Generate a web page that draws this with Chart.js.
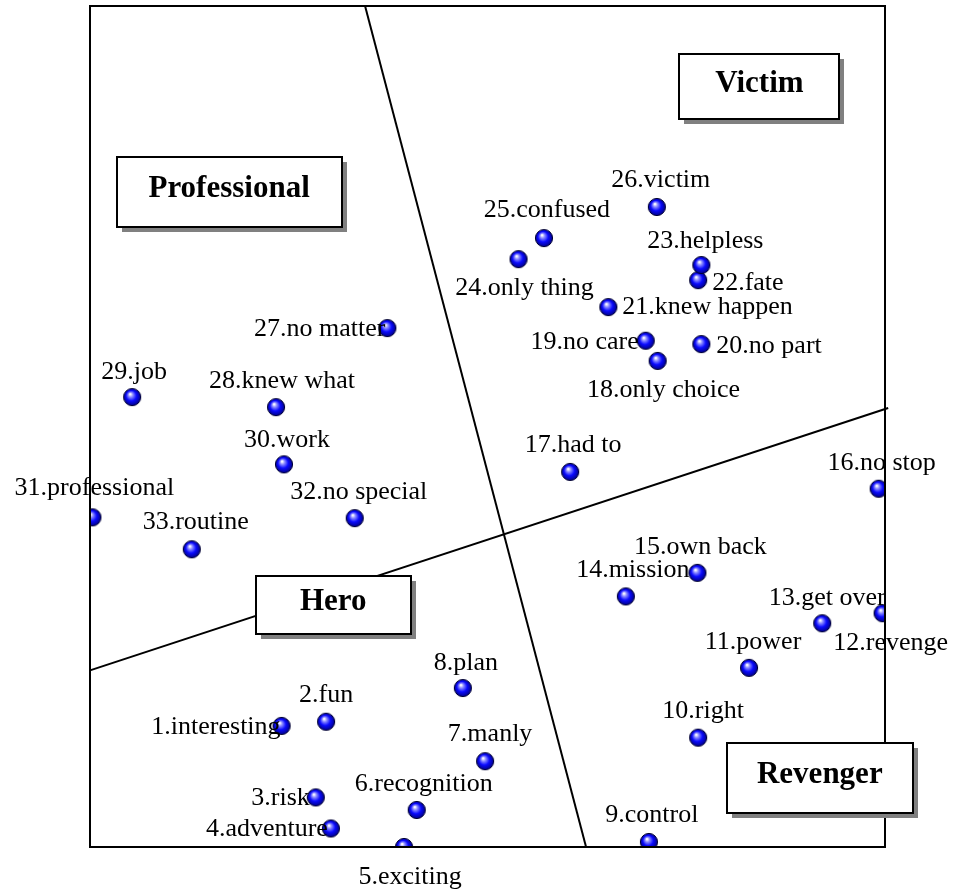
<!DOCTYPE html>
<html>
<head>
<meta charset="utf-8">
<title>Perpetrator roles</title>
<script src="https://cdn.jsdelivr.net/npm/chart.js@4.4.1/dist/chart.umd.min.js"></script>
<style>
  html, body { margin: 0; padding: 0; background: #fff; }
  #wrap { position: relative; width: 954px; height: 893px; }
</style>
</head>
<body>
<div id="wrap"><canvas id="roles"></canvas></div>
<script>
/* ---- Data ---- */

const ITEM_LABELS = [
  '1.interesting', '2.fun', '3.risk', '4.adventure', '5.exciting',
  '6.recognition', '7.manly', '8.plan', '9.control', '10.right',
  '11.power', '12.revenge', '13.get over', '14.mission', '15.own back',
  '16.no stop', '17.had to', '18.only choice', '19.no care', '20.no part',
  '21.knew happen', '22.fate', '23.helpless', '24.only thing', '25.confused',
  '26.victim', '27.no matter', '28.knew what', '29.job', '30.work',
  '31.professional', '32.no special', '33.routine',
];

const DIM_X = [
  24.1, 29.7, 28.4, 30.3, 39.5, 41.1, 49.7, 46.9, 70.3, 76.5,
  82.9, 99.7, 92.1, 67.4, 76.4, 99.2, 60.4, 71.4, 69.9, 76.9,
  65.2, 76.5, 76.9, 53.9, 57.1, 71.3, 37.4, 23.4, 5.3, 24.4,
  0.3, 33.3, 12.8,
];

const DIM_Y = [
  14.4, 14.9, 5.9, 2.2, 0.0, 4.4, 10.2, 18.9, 0.6, 13.0,
  21.3, 27.8, 26.6, 29.8, 32.6, 42.6, 44.6, 57.8, 60.2, 59.8,
  64.2, 67.4, 69.2, 69.9, 72.4, 76.1, 61.7, 52.3, 53.5, 45.5,
  39.2, 39.1, 35.4,
];

// the two boundary lines between role regions
const SPLIT_A_X = [34.6, 62.4];
const SPLIT_A_Y = [100, 0];
const SPLIT_B_X = [0, 100.4];
const SPLIT_B_Y = [21.0, 52.2];

const ROLE_NAMES = ['Professional', 'Victim', 'Hero', 'Revenger'];
const ROLE_X = [17.5, 84.2, 30.6, 91.8];
const ROLE_Y = [77.9, 90.4, 28.8, 8.2];

/* ---- Styling ---- */

// label anchor: [align, dx, dy] relative to the point, in px
const LABEL_SPOTS = [
  ['right', -1, 1], ['center', 0, -27], ['right', -6, 1], ['right', -3, 1], ['center', 6, 30],
  ['center', 7, -26], ['center', 5, -27], ['center', 3, -25], ['center', 3, -27], ['center', 5, -26],
  ['center', 4, -26], ['center', 8, 30], ['center', 5, -25], ['center', 7, -26], ['center', 3, -26],
  ['center', 3, -26], ['center', 3, -27], ['center', 6, 29], ['right', -7, 1], ['left', 15, 2],
  ['left', 14, 0], ['left', 14, 3], ['center', 4, -24], ['center', 6, 29], ['center', 3, -28],
  ['center', 4, -27], ['right', -2, 1], ['center', 6, -26], ['center', 2, -25], ['center', 3, -24],
  ['center', 2, -29], ['center', 4, -26], ['center', 4, -27],
];

const BOX_SIZES = [[225, 70], [160, 65], [155, 58], [186, 70]];
const LABEL_FONT = '26px "Liberation Serif", "Times New Roman", serif';
const ROLE_FONT = 'bold 31px "Liberation Serif", "Times New Roman", serif';

/* ---- Helpers ---- */

// small shaded blue ball used as the point marker
function _sphere() {
  const c = document.createElement('canvas');
  c.width = 20;
  c.height = 20;
  const g = c.getContext('2d');
  const grad = g.createRadialGradient(8, 7, 0.5, 10, 10, 9);
  grad.addColorStop(0, '#ffffff');
  grad.addColorStop(0.22, '#8a8aff');
  grad.addColorStop(0.55, '#0a0aff');
  grad.addColorStop(1, '#00007a');
  g.beginPath();
  g.arc(10, 10, 8.6, 0, Math.PI * 2);
  g.fillStyle = grad;
  g.fill();
  g.lineWidth = 1;
  g.strokeStyle = '#000033';
  g.stroke();
  return c;
}

function _pairs(xs, ys) {
  return xs.map((x, i) => ({ x, y: ys[i] }));
}

/* ---- Plugins ---- */

const framePlugin = {
  id: 'frame',
  afterDatasetsDraw(chart) {
    const { ctx, chartArea: a } = chart;
    ctx.save();
    ctx.lineWidth = 2;
    ctx.strokeStyle = '#000';
    ctx.strokeRect(a.left, a.top, a.right - a.left, a.bottom - a.top);
    ctx.restore();
  },
};

const labelPlugin = {
  id: 'pointLabels',
  afterDatasetsDraw(chart) {
    const { ctx } = chart;
    const pts = chart.getDatasetMeta(0).data;
    ctx.save();
    ctx.font = LABEL_FONT;
    ctx.fillStyle = '#000';
    ctx.textBaseline = 'middle';
    pts.forEach((p, i) => {
      const [align, dx, dy] = LABEL_SPOTS[i];
      ctx.textAlign = align;
      ctx.fillText(ITEM_LABELS[i], p.x + dx, p.y + dy);
    });
    ctx.restore();
  },
};

const rolePlugin = {
  id: 'roleBoxes',
  afterDraw(chart) {
    const { ctx, scales } = chart;
    ctx.save();
    ROLE_NAMES.forEach((name, i) => {
      const cx = scales.x.getPixelForValue(ROLE_X[i]);
      const cy = scales.y.getPixelForValue(ROLE_Y[i]);
      const [w, h] = BOX_SIZES[i];
      const x = Math.round(cx - w / 2);
      const y = Math.round(cy - h / 2);
      // drop shadow
      ctx.fillStyle = '#808080';
      ctx.fillRect(x + 5, y + 5, w, h);
      ctx.fillStyle = '#fff';
      ctx.fillRect(x, y, w, h);
      ctx.lineWidth = 2;
      ctx.strokeStyle = '#000';
      ctx.strokeRect(x, y, w, h);
      ctx.font = ROLE_FONT;
      ctx.fillStyle = '#000';
      ctx.textAlign = 'center';
      ctx.textBaseline = 'middle';
      ctx.fillText(name, cx, cy - 3);
    });
    ctx.restore();
  },
};

/* ---- Chart ---- */

const splitLine = (xs, ys) => ({
  type: 'scatter',
  data: _pairs(xs, ys),
  showLine: true,
  borderColor: '#000',
  borderWidth: 2,
  pointRadius: 0,
  clip: 4,
});

new Chart(document.getElementById('roles'), {
  type: 'scatter',
  data: {
    datasets: [
      {
        data: _pairs(DIM_X, DIM_Y),
        pointStyle: _sphere(),
        pointRadius: 9,
        clip: 0,
      },
      splitLine(SPLIT_A_X, SPLIT_A_Y),
      splitLine(SPLIT_B_X, SPLIT_B_Y),
    ],
  },
  options: {
    responsive: true,
    maintainAspectRatio: false,
    animation: false,
    layout: {
      autoPadding: false,
      padding: { left: 90, top: 6, right: 69, bottom: 46 },
    },
    plugins: {
      legend: { display: false },
      tooltip: { enabled: false },
    },
    scales: {
      x: { type: 'linear', min: 0, max: 100, display: false },
      y: { type: 'linear', min: 0, max: 100, display: false },
    },
  },
  plugins: [framePlugin, labelPlugin, rolePlugin],
});
</script>
</body>
</html>
